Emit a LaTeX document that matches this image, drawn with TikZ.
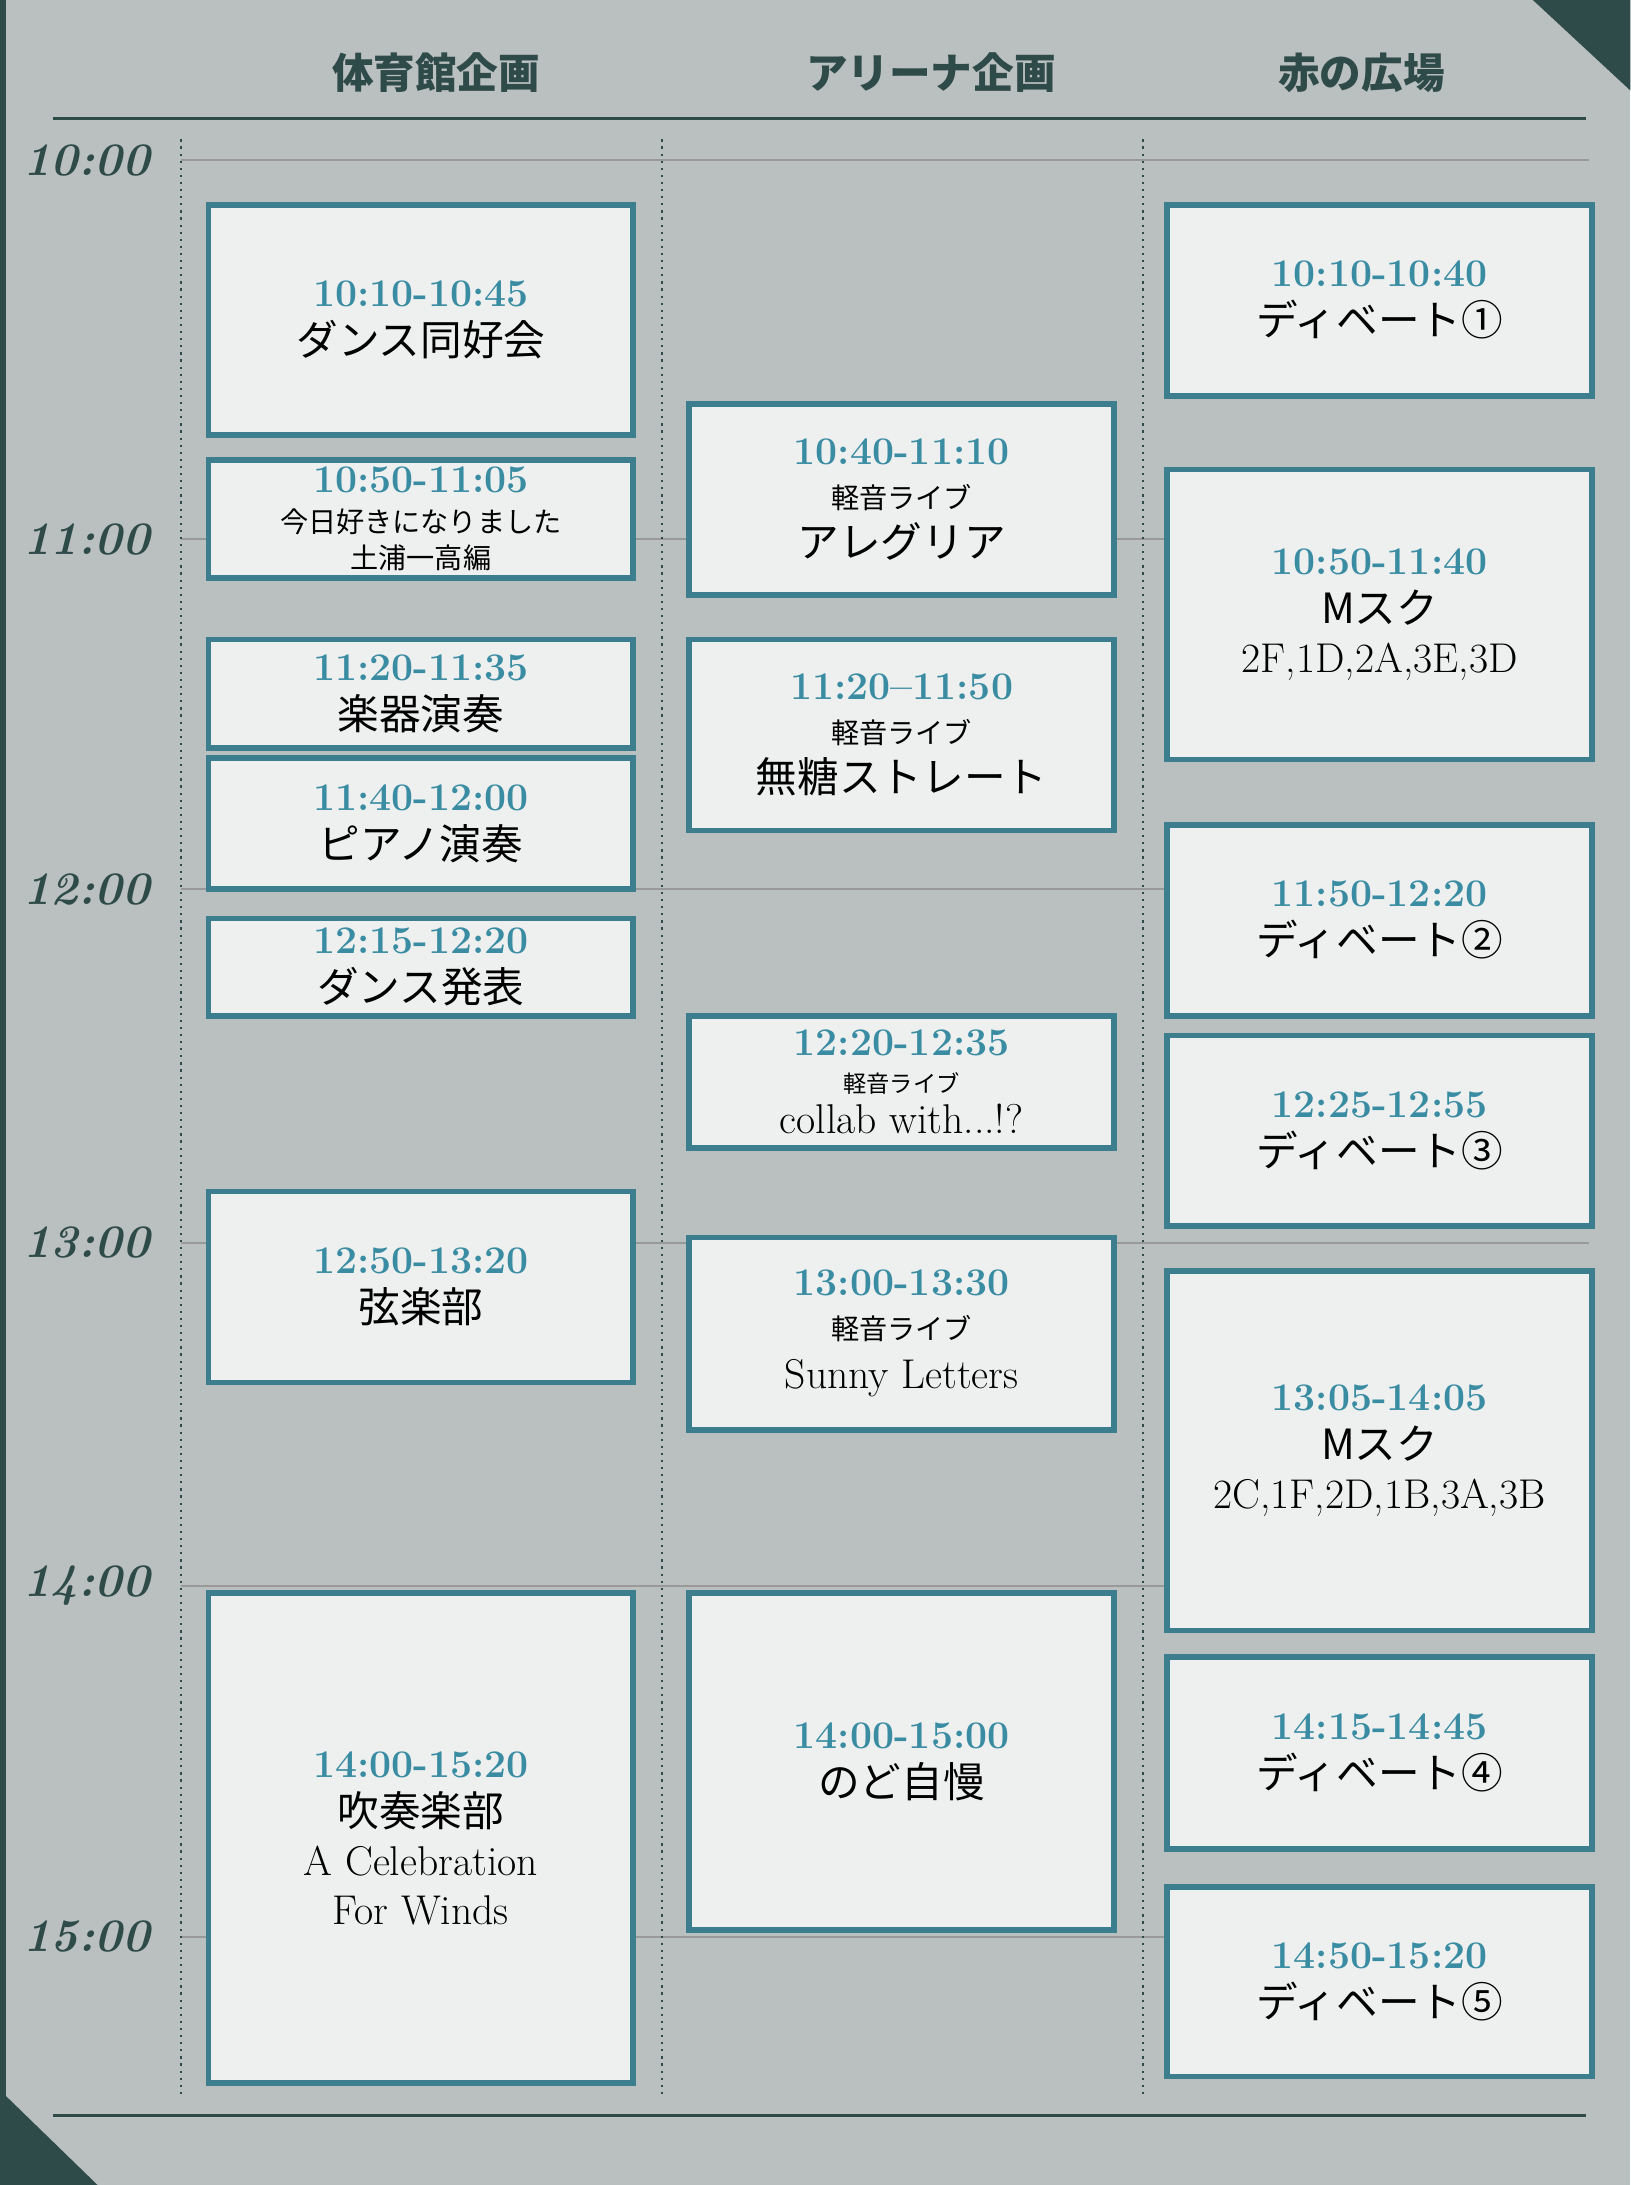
\documentclass[tikz,border=0pt]{standalone}
\usepackage{fontspec}
\newfontfamily\jp{Noto Sans CJK JP}
\usetikzlibrary{positioning}
\definecolor{bgray}{HTML}{B9C0BF}
\definecolor{dteal}{HTML}{2F4B49}
\definecolor{bteal}{HTML}{3C7D8E}
\definecolor{tnum}{HTML}{3A8CA3}
\definecolor{boxw}{HTML}{EEF0EF}
\newcommand{\tm}[1]{{\fontsize{16}{19}\selectfont\bfseries\color{tnum}#1}}
\newcommand{\bigjp}[1]{{\fontsize{17}{22}\selectfont\jp #1}}
\newcommand{\sml}[1]{{\fontsize{11.5}{14}\selectfont\jp #1}}
\newcommand{\lat}[1]{{\fontsize{17}{20}\selectfont #1}}
\newcommand{\slot}[5]{%
  \node[slotbox, minimum height={(#4-#3)*0.02cm}] (#1) at (#2,{(#3+#4)/2}) {#5};}
\tikzset{
  slotbox/.style={draw=bteal, line width=2.3pt, fill=boxw, minimum width=6.1cm,
    align=center, inner sep=2pt, text=black, font=\fontsize{12}{20}\selectfont},
  hour/.style={font=\fontsize{19}{20}\selectfont\bfseries\itshape, text=dteal},
  head/.style={font=\fontsize{17}{20}\selectfont\jp\bfseries\itshape, text=dteal}
}
\begin{document}
\begin{tikzpicture}[x=0.02cm, y=-0.02cm]
  %Background
  \fill[bgray] (0,0) rectangle (1170,1568);
  \useasboundingbox (0,0) rectangle (1170,1568);
  \fill[dteal] (1100,0) -- (1170,0) -- (1170,65) -- cycle;
  \fill[dteal] (0,1500) -- (70,1568) -- (0,1568) -- cycle;
  \fill[dteal] (0,0) rectangle (4,1568);

  %Header
  \node[head] (gym) at (313,52) {体育館企画};
  \node[head] (arena) at (668,52) {アリーナ企画};
  \node[head] (plaza) at (977,52) {赤の広場};
  \draw[dteal, line width=1.2pt] (38,85) -- (1138,85);
  \draw[dteal, line width=1.2pt] (38,1518) -- (1138,1518);

  %Hours
  \foreach \h/\y in {10/115, 11/387, 12/638, 13/892, 14/1138, 15/1390} {
    \node[hour] (h\h) at (62,\y) {\h:00};
    \draw[gray!80, line width=0.7pt] (130,\y) -- (1140,\y);
  }
  \foreach \x in {130,475,820}
    \draw[dteal, dotted, line width=0.9pt] (\x,100) -- (\x,1505);

  %Gym
  \slot{g1}{302}{147}{312}{\tm{10:10-10:45}\\\bigjp{ダンス同好会}}
  \slot{g2}{302}{330}{415}{\tm{10:50-11:05}\\[-4pt]\sml{今日好きになりました}\\[-5pt]\sml{土浦一高編}}
  \slot{g3}{302}{459}{537}{\tm{11:20-11:35}\\\bigjp{楽器演奏}}
  \slot{g4}{302}{544}{638}{\tm{11:40-12:00}\\\bigjp{ピアノ演奏}}
  \slot{g5}{302}{659}{729}{\tm{12:15-12:20}\\\bigjp{ダンス発表}}
  \slot{g6}{302}{855}{992}{\tm{12:50-13:20}\\\bigjp{弦楽部}}
  \slot{g7}{302}{1143}{1495}{\tm{14:00-15:20}\\\bigjp{吹奏楽部}\\\lat{A Celebration}\\\lat{For Winds}}

  %Arena
  \slot{a1}{647}{290}{427}{\tm{10:40-11:10}\\[-2pt]\sml{軽音ライブ}\\\bigjp{アレグリア}}
  \slot{a2}{647}{459}{596}{\tm{11:20--11:50}\\[-2pt]\sml{軽音ライブ}\\\bigjp{無糖ストレート}}
  \slot{a3}{647}{729}{824}{\tm{12:20-12:35}\\[-5pt]{\fontsize{9.5}{11}\selectfont\jp 軽音ライブ}\\[-3pt]\lat{collab with...!?}}
  \slot{a4}{647}{888}{1026}{\tm{13:00-13:30}\\[-2pt]\sml{軽音ライブ}\\\lat{Sunny Letters}}
  \slot{a5}{647}{1143}{1385}{\tm{14:00-15:00}\\\bigjp{のど自慢}}

  %Plaza
  \slot{p1}{990}{147}{284}{\tm{10:10-10:40}\\\bigjp{ディベート①}}
  \slot{p2}{990}{337}{545}{\tm{10:50-11:40}\\\bigjp{Mスク}\\\lat{2F,1D,2A,3E,3D}}
  \slot{p3}{990}{592}{729}{\tm{11:50-12:20}\\\bigjp{ディベート②}}
  \slot{p4}{990}{743}{880}{\tm{12:25-12:55}\\\bigjp{ディベート③}}
  \slot{p5}{990}{912}{1170}{\tm{13:05-14:05}\\\bigjp{Mスク}\\\lat{2C,1F,2D,1B,3A,3B}}
  \slot{p6}{990}{1189}{1327}{\tm{14:15-14:45}\\\bigjp{ディベート④}}
  \slot{p7}{990}{1354}{1490}{\tm{14:50-15:20}\\\bigjp{ディベート⑤}}
\end{tikzpicture}
\end{document}
